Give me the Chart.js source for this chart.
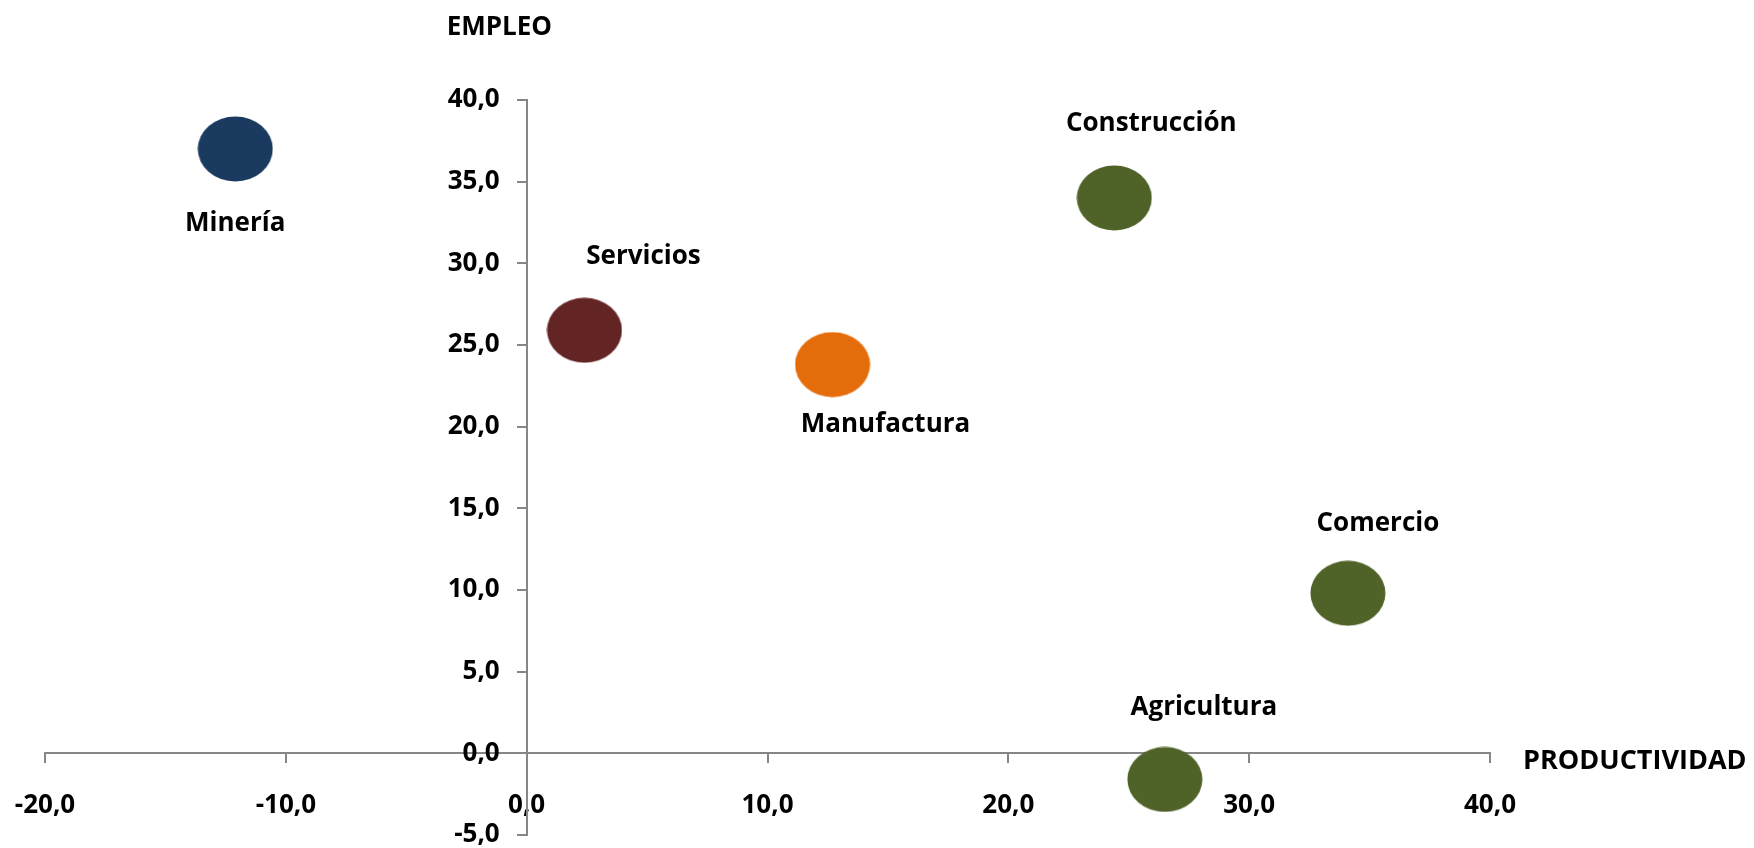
<!DOCTYPE html>
<html>
<head>
<meta charset="utf-8">
<script src="https://cdn.jsdelivr.net/npm/chart.js@4"></script>
<style>
  html, body { margin: 0; padding: 0; background: #fff; overflow: hidden; }
  canvas { display: block; }
</style>
</head>
<body>
<canvas id="myChart" width="1754" height="848"></canvas>
<script>
var sectors = ['Minería', 'Servicios', 'Manufactura', 'Construcción', 'Comercio', 'Agricultura'];
var productividad = [-12.1, 2.4, 12.7, 24.4, 34.1, 26.5];
var empleo = [37.0, 25.9, 23.8, 34.0, 9.8, -1.6];
var sectorColors = ['#1B3A5F', '#632523', '#E46C0A', '#4F6228', '#4F6228', '#4F6228'];
var xTitle = 'PRODUCTIVIDAD';
var yTitle = 'EMPLEO';

// label offsets from bubble centre (px)
var labelOffsets = [[0, 75], [59, -74], [53, 60], [37, -74], [30, -70], [39, -72]];

var FONT = "'Open Sans', sans-serif";
var axisGray = '#868686';

function ellipse(color) {
  var c = document.createElement('canvas');
  c.width = 76;
  c.height = 66;
  var g = c.getContext('2d');
  g.fillStyle = color;
  g.beginPath();
  g.ellipse(38, 33, 37.5, 32.5, 0, 0, Math.PI * 2);
  g.fill();
  return c;
}

function fmt(v) {
  return Number(v).toFixed(1).replace('.', ',');
}

// crossed axes should not eat into the plot area
function noSpace(scale) {
  if (scale.isHorizontal()) scale.height = 0; else scale.width = 0;
  scale.paddingLeft = scale.paddingRight = scale.paddingTop = scale.paddingBottom = 0;
}

var points = productividad.map((x, i) => ({ x: x, y: empleo[i] }));

var sectorLabels = {
  id: 'sectorLabels',
  afterDatasetsDraw(chart) {
    var ctx = chart.ctx;
    var meta = chart.getDatasetMeta(0);
    ctx.save();
    ctx.font = 'bold 26px ' + FONT;
    ctx.fillStyle = '#000';
    ctx.textAlign = 'center';
    ctx.textBaseline = 'middle';
    meta.data.forEach((pt, i) => {
      ctx.fillText(sectors[i], pt.x + labelOffsets[i][0], pt.y + labelOffsets[i][1]);
    });
    ctx.restore();
  }
};

// y tick labels: the crossed axis puts them against the line, so draw them with a gap
var yTickLabels = {
  id: 'yTickLabels',
  afterDraw(chart) {
    var ctx = chart.ctx;
    var xs = chart.scales.x, ys = chart.scales.y;
    var x0 = xs.getPixelForValue(0) - 27;
    ctx.save();
    ctx.font = 'bold 26px ' + FONT;
    ctx.fillStyle = '#000';
    ctx.textAlign = 'right';
    ctx.textBaseline = 'middle';
    ys.ticks.forEach(t => {
      ctx.fillText(fmt(t.value), x0, ys.getPixelForValue(t.value));
    });
    ctx.restore();
  }
};

var axisTitles = {
  id: 'axisTitles',
  afterDraw(chart) {
    var ctx = chart.ctx;
    var xs = chart.scales.x, ys = chart.scales.y;
    ctx.save();
    ctx.font = 'bold 26px ' + FONT;
    ctx.fillStyle = '#000';
    ctx.textAlign = 'left';
    ctx.textBaseline = 'middle';
    ctx.fillText(yTitle, xs.getPixelForValue(0) - 80, ys.getPixelForValue(40) - 72);
    ctx.font = 'bold 27px ' + FONT;
    ctx.fillText(xTitle, xs.right + 33, ys.getPixelForValue(0) + 8);
    ctx.restore();
  }
};

new Chart('myChart', {
  type: 'scatter',
  data: {
    datasets: [{
      data: points,
      pointStyle: sectorColors.map(ellipse),
      pointRadius: 36,
      backgroundColor: sectorColors
    }]
  },
  options: {
    responsive: false,
    animation: false,
    events: [],
    layout: {
      autoPadding: false,
      padding: { left: 45, right: 264, top: 100, bottom: 13 }
    },
    plugins: {
      legend: { display: false },
      tooltip: { enabled: false }
    },
    scales: {
      x: {
        type: 'linear',
        position: { y: 0 },
        min: -20,
        max: 40,
        afterFit: noSpace,
        ticks: {
          stepSize: 10,
          padding: 28,
          color: '#000',
          font: { family: FONT, size: 26, weight: 'bold' },
          callback: fmt,
          maxRotation: 0
        },
        grid: { drawOnChartArea: false, tickLength: 9, color: axisGray, lineWidth: 2 },
        border: { color: axisGray, width: 2 }
      },
      y: {
        type: 'linear',
        position: { x: 0 },
        min: -5,
        max: 40,
        afterFit: noSpace,
        ticks: {
          stepSize: 5,
          display: false
        },
        grid: { drawOnChartArea: false, tickLength: 9, color: axisGray, lineWidth: 2 },
        border: { color: axisGray, width: 2 }
      }
    }
  },
  plugins: [sectorLabels, yTickLabels, axisTitles]
});
</script>
</body>
</html>
